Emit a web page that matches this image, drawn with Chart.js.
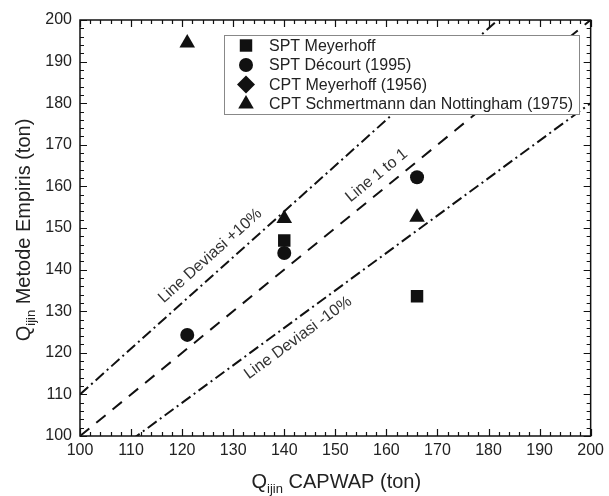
<!DOCTYPE html>
<html>
<head>
<meta charset="utf-8">
<script src="https://cdn.jsdelivr.net/npm/chart.js@4.4.1/dist/chart.umd.min.js"></script>
<style>
  html, body { margin: 0; padding: 0; background: #fff; }
  #wrap { width: 609px; height: 496px; }
</style>
</head>
<body>
<div id="wrap"><canvas id="chart" width="609" height="496"></canvas></div>
<script>
// Axis ticks
const xTickValues = [100, 110, 120, 130, 140, 150, 160, 170, 180, 190, 200];
const yTickValues = [100, 110, 120, 130, 140, 150, 160, 170, 180, 190, 200];

// Measured points (x = CAPWAP, y = empirical)
const sptMeyerhoffX = [140, 166];
const sptMeyerhoffY = [147, 133.6];
const sptDecourtX = [121, 140, 166];
const sptDecourtY = [124.3, 144, 162.2];
const cptMeyerhoffX = [];
const cptMeyerhoffY = [];
const cptSchmertmannX = [121, 140, 166];
const cptSchmertmannY = [194.5, 152.3, 152.6];

// Reference lines (end points)
const line1to1X = [100, 200];
const line1to1Y = [100, 200];
const plus10X = [100, 200];
const plus10Y = [110, 220];
const minus10X = [100, 200];
const minus10Y = [90, 180];

const FONT = "'Liberation Sans', Arial, Helvetica, sans-serif";
const INK = "#111";

function toPoints(xs, ys) {
  return xs.map((x, i) => ({ x: x, y: ys[i] }));
}

// frame, inward ticks, titles, legend, line labels
const decorPlugin = {
  id: "decor",
  afterDraw(chart) {
    const ctx = chart.ctx;
    const area = chart.chartArea;
    const xs = chart.scales.x;
    const ys = chart.scales.y;

    ctx.save();
    // frame
    ctx.strokeStyle = INK;
    ctx.lineWidth = 1.5;
    ctx.strokeRect(area.left, area.top, area.right - area.left, area.bottom - area.top);

    // inward ticks on all 4 sides
    ctx.lineWidth = 1.2;
    ctx.beginPath();
    for (let v = 100; v <= 200; v += 2) {
      const len = v % 10 === 0 ? 7 : 4;
      const px = Math.round(xs.getPixelForValue(v)) + 0.5;
      ctx.moveTo(px, area.bottom); ctx.lineTo(px, area.bottom - len);
      ctx.moveTo(px, area.top); ctx.lineTo(px, area.top + len);
      const py = Math.round(ys.getPixelForValue(v)) + 0.5;
      ctx.moveTo(area.left, py); ctx.lineTo(area.left + len, py);
      ctx.moveTo(area.right, py); ctx.lineTo(area.right - len, py);
    }
    ctx.stroke();

    // line labels
    ctx.fillStyle = "#333";
    ctx.font = "16px " + FONT;
    ctx.textAlign = "center";
    ctx.textBaseline = "middle";
    const labels = [
      { text: "Line Deviasi +10%", x: 125.5, y: 143.3, ds: 5 },
      { text: "Line 1 to 1", x: 158.1, y: 162.6, ds: 4 },
      { text: "Line Deviasi -10%", x: 142.7, y: 123.6, ds: 6 }
    ];
    labels.forEach(l => {
      const pts = chart.data.datasets[l.ds].data;
      const dx = xs.getPixelForValue(pts[1].x) - xs.getPixelForValue(pts[0].x);
      const dy = ys.getPixelForValue(pts[1].y) - ys.getPixelForValue(pts[0].y);
      ctx.save();
      ctx.translate(xs.getPixelForValue(l.x), ys.getPixelForValue(l.y));
      ctx.rotate(Math.atan2(dy, dx));
      ctx.fillText(l.text, 0, 0);
      ctx.restore();
    });

    // legend box
    const lx = 224, ly = 35, lw = 355, lh = 79;
    ctx.fillStyle = "#fff";
    ctx.fillRect(lx, ly, lw, lh);
    ctx.strokeStyle = "#888";
    ctx.lineWidth = 1;
    ctx.strokeRect(lx + 0.5, ly + 0.5, lw, lh);
    ctx.textAlign = "left";
    ctx.font = "16px " + FONT;
    const rows = chart.data.datasets.filter(d => d.inLegend);
    rows.forEach((d, i) => {
      const cy = 45.5 + i * 19.5;
      ctx.fillStyle = INK;
      Chart.helpers.drawPoint(ctx, {
        pointStyle: d.pointStyle, radius: d.legendRadius, rotation: 0, borderWidth: 0
      }, 246, cy);
      ctx.fillStyle = "#222";
      ctx.fillText(d.label, 269, cy + 1);
    });

    // axis titles with subscript
    const drawTitle = (parts, cx, baseY) => {
      let total = 0;
      parts.forEach(p => { ctx.font = p.size + "px " + FONT; p.w = ctx.measureText(p.t).width; total += p.w; });
      let x = cx - total / 2;
      ctx.textAlign = "left";
      ctx.textBaseline = "alphabetic";
      ctx.fillStyle = "#222";
      parts.forEach(p => {
        ctx.font = p.size + "px " + FONT;
        ctx.fillText(p.t, x, baseY + p.dy);
        x += p.w;
      });
    };
    drawTitle([
      { t: "Q", size: 20, dy: 0 },
      { t: "ijin", size: 13, dy: 5 },
      { t: " CAPWAP (ton)", size: 20, dy: 0 }
    ], (area.left + area.right) / 2 + 1, 488);

    ctx.save();
    ctx.translate(30, (area.top + area.bottom) / 2 + 2);
    ctx.rotate(-Math.PI / 2);
    drawTitle([
      { t: "Q", size: 20, dy: 0 },
      { t: "ijin", size: 13, dy: 5 },
      { t: " Metode Empiris (ton)", size: 20, dy: 0 }
    ], 0, 0);
    ctx.restore();

    ctx.restore();
  }
};

const lineStyle = {
  type: "line",
  showLine: true,
  borderColor: INK,
  borderWidth: 2,
  pointRadius: 0,
  fill: false,
  inLegend: false
};

const ctx = document.getElementById("chart").getContext("2d");
new Chart(ctx, {
  type: "scatter",
  data: {
    datasets: [
      { label: "SPT Meyerhoff", data: toPoints(sptMeyerhoffX, sptMeyerhoffY),
        pointStyle: "rect", pointRadius: 8.8, legendRadius: 8.8, backgroundColor: INK, borderWidth: 0, inLegend: true },
      { label: "SPT Décourt (1995)", data: toPoints(sptDecourtX, sptDecourtY),
        pointStyle: "circle", pointRadius: 7, legendRadius: 7, backgroundColor: INK, borderWidth: 0, inLegend: true },
      { label: "CPT Meyerhoff (1956)", data: toPoints(cptMeyerhoffX, cptMeyerhoffY),
        pointStyle: "rectRot", pointRadius: 9, legendRadius: 9, backgroundColor: INK, borderWidth: 0, inLegend: true },
      { label: "CPT Schmertmann dan Nottingham (1975)", data: toPoints(cptSchmertmannX, cptSchmertmannY),
        pointStyle: "triangle", pointRadius: 9, legendRadius: 9, backgroundColor: INK, borderWidth: 0, inLegend: true },
      Object.assign({}, lineStyle, { label: "Line 1 to 1", data: toPoints(line1to1X, line1to1Y), borderDash: [12, 9] }),
      Object.assign({}, lineStyle, { label: "Line Deviasi +10%", data: toPoints(plus10X, plus10Y), borderDash: [11, 4, 2, 4] }),
      Object.assign({}, lineStyle, { label: "Line Deviasi -10%", data: toPoints(minus10X, minus10Y), borderDash: [11, 4, 2, 4] })
    ]
  },
  options: {
    responsive: false,
    animation: false,
    devicePixelRatio: 1,
    layout: { padding: { top: 20, right: 16, left: 0, bottom: 0 } },
    plugins: {
      legend: { display: false },
      tooltip: { enabled: false }
    },
    scales: {
      x: {
        type: "linear",
        min: 100,
        max: 200,
        afterBuildTicks: (s) => { s.ticks = xTickValues.map(v => ({ value: v })); },
        afterFit: (s) => { s.height = 60; },
        grid: { display: false, drawTicks: false },
        border: { display: false },
        ticks: { color: "#222", font: { size: 16, family: FONT }, padding: 5, maxRotation: 0 }
      },
      y: {
        type: "linear",
        min: 100,
        max: 200,
        afterBuildTicks: (s) => { s.ticks = yTickValues.map(v => ({ value: v })); },
        afterFit: (s) => { s.width = 80; },
        grid: { display: false, drawTicks: false },
        border: { display: false },
        ticks: { color: "#222", font: { size: 16, family: FONT }, padding: 8 }
      }
    }
  },
  plugins: [decorPlugin]
});
</script>
</body>
</html>
